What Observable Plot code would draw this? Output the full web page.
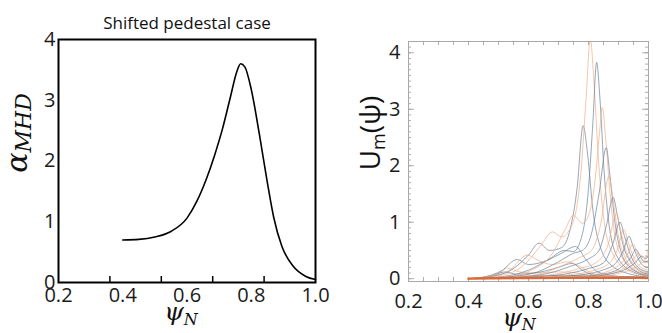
<!DOCTYPE html>
<html><head><meta charset="utf-8">
<script src="https://cdn.jsdelivr.net/npm/d3@7"></script>
<script src="https://cdn.jsdelivr.net/npm/@observablehq/plot@0.6"></script>
<style>
body{margin:0;background:#fff;}
#wrap{position:relative;width:662px;height:333px;overflow:hidden;}
#left,#right{position:absolute;top:0;}
#left{left:0}#right{left:331px}
</style></head><body>
<div id="wrap"><div id="left"></div><div id="right"></div></div>
<script>
// ---------- left panel data ----------
const title = "Shifted pedestal case";
const psiAlpha = [0.40,0.45,0.50,0.55,0.60,0.63,0.66,0.685,0.71,0.735,0.755,0.767,0.78,0.80,0.825,0.85,0.87,0.895,0.93,0.97,1.00];
const alphaMHD = [0.70,0.71,0.75,0.84,1.06,1.33,1.70,2.08,2.52,3.05,3.47,3.60,3.55,3.18,2.45,1.65,1.07,0.60,0.27,0.10,0.05];
const xTickLabels = [0.2,0.4,0.6,0.8,1.0];
const yTickLabelsLeft = [0,1,2,3,4];
const leftTickMarks = [0.36,0.52,0.68,0.84];

// ---------- right panel data: harmonics U_m(psi) as [psi,U, psi,U, ...] ----------
const U01 = [0.40,0, 0.55,0.01, 0.70,0.015, 0.85,0.015, 1.00,0.015];
const U02 = [0.40,0, 0.48,0.025, 0.56,0.05, 0.66,0.05, 0.80,0.04, 0.90,0.03, 1.00,0.03];
const U03 = [0.42,0, 0.50,0.02, 0.60,0.04, 0.70,0.06, 0.80,0.05, 0.90,0.04, 1.00,0.02];
const U04 = [0.40,0, 0.45,0.03, 0.50,0.09, 0.53,0.19, 0.57,0.12, 0.62,0.10, 0.70,0.12, 0.75,0.11, 0.80,0.06, 0.90,0.03, 1.00,0.02];
const U05 = [0.40,0, 0.47,0.03, 0.52,0.12, 0.56,0.08, 0.62,0.10, 0.70,0.20, 0.745,0.27, 0.78,0.15, 0.83,0.05, 1.00,0.02];
const U06 = [0.40,0, 0.46,0.04, 0.51,0.14, 0.562,0.34, 0.60,0.25, 0.65,0.30, 0.71,0.45, 0.757,0.57, 0.79,0.35, 0.83,0.12, 0.90,0.04, 1.00,0.02];
const U07 = [0.40,0, 0.47,0.04, 0.54,0.16, 0.596,0.42, 0.63,0.33, 0.68,0.25, 0.73,0.30, 0.77,0.22, 0.82,0.08, 0.90,0.03, 1.00,0.02];
const U08 = [0.40,0, 0.48,0.04, 0.55,0.18, 0.60,0.42, 0.635,0.63, 0.67,0.50, 0.71,0.55, 0.74,0.90, 0.762,1.60, 0.782,2.71, 0.797,2.20, 0.815,1.20, 0.84,0.55, 0.88,0.22, 0.94,0.08, 1.00,0.03];
const U09 = [0.40,0, 0.50,0.05, 0.58,0.22, 0.64,0.58, 0.68,0.83, 0.71,0.74, 0.745,0.95, 0.775,1.90, 0.792,3.20, 0.806,4.25, 0.818,3.50, 0.832,2.20, 0.85,1.10, 0.88,0.45, 0.93,0.15, 1.00,0.04];
const U10 = [0.42,0, 0.52,0.04, 0.60,0.15, 0.67,0.35, 0.72,0.50, 0.75,0.48, 0.78,0.80, 0.80,1.60, 0.815,2.80, 0.827,3.83, 0.838,3.20, 0.852,1.90, 0.87,0.90, 0.90,0.35, 0.95,0.12, 1.00,0.05];
const U11 = [0.42,0, 0.53,0.04, 0.61,0.15, 0.68,0.45, 0.72,0.85, 0.75,1.12, 0.78,0.98, 0.805,1.20, 0.825,1.90, 0.837,2.60, 0.846,3.03, 0.857,2.50, 0.872,1.50, 0.89,0.70, 0.92,0.30, 0.96,0.12, 1.00,0.05];
const U12 = [0.45,0, 0.55,0.04, 0.63,0.12, 0.70,0.30, 0.75,0.45, 0.78,0.50, 0.81,0.80, 0.835,1.50, 0.859,2.32, 0.872,1.80, 0.888,1.00, 0.91,0.45, 0.94,0.20, 0.97,0.10, 1.00,0.06];
const U13 = [0.45,0, 0.56,0.03, 0.65,0.10, 0.72,0.25, 0.78,0.40, 0.81,0.50, 0.84,0.95, 0.868,1.81, 0.882,1.40, 0.898,0.80, 0.92,0.40, 0.95,0.18, 1.00,0.07];
const U14 = [0.48,0, 0.58,0.03, 0.67,0.10, 0.74,0.22, 0.80,0.35, 0.835,0.50, 0.86,0.95, 0.882,1.44, 0.897,1.10, 0.915,0.60, 0.94,0.30, 0.97,0.14, 1.00,0.08];
const U15 = [0.50,0, 0.60,0.03, 0.70,0.09, 0.77,0.18, 0.83,0.30, 0.865,0.60, 0.893,1.15, 0.907,0.85, 0.925,0.50, 0.95,0.25, 0.98,0.13, 1.00,0.10];
const U16 = [0.50,0, 0.62,0.03, 0.72,0.08, 0.80,0.18, 0.85,0.28, 0.88,0.60, 0.905,1.00, 0.92,0.75, 0.94,0.42, 0.965,0.20, 1.00,0.12];
const U17 = [0.52,0, 0.64,0.02, 0.74,0.07, 0.82,0.15, 0.87,0.28, 0.895,0.50, 0.918,0.87, 0.932,0.65, 0.95,0.38, 0.975,0.20, 1.00,0.15];
const U18 = [0.55,0, 0.66,0.02, 0.76,0.06, 0.84,0.14, 0.89,0.27, 0.915,0.48, 0.935,0.75, 0.95,0.55, 0.968,0.33, 0.985,0.22, 1.00,0.20];
const U19 = [0.58,0, 0.70,0.02, 0.80,0.06, 0.87,0.14, 0.91,0.28, 0.93,0.42, 0.948,0.62, 0.962,0.46, 0.978,0.30, 1.00,0.28];
const U20 = [0.60,0, 0.72,0.02, 0.82,0.06, 0.89,0.14, 0.925,0.28, 0.942,0.38, 0.958,0.52, 0.972,0.40, 0.986,0.30, 1.00,0.32];
const U21 = [0.62,0, 0.75,0.02, 0.85,0.07, 0.91,0.16, 0.94,0.27, 0.968,0.45, 0.98,0.37, 0.99,0.35, 1.00,0.40];
const U22 = [0.65,0, 0.78,0.02, 0.87,0.08, 0.925,0.17, 0.955,0.28, 0.978,0.40, 0.99,0.36, 1.00,0.40];
const U23 = [0.68,0, 0.80,0.02, 0.89,0.08, 0.94,0.16, 0.97,0.25, 0.99,0.35, 1.00,0.55];

const harmonicIds    = ["U01","U02","U03","U04","U05","U06","U07","U08","U09","U10","U11","U12","U13","U14","U15","U16","U17","U18","U19","U20","U21","U22","U23"];
const harmonicValues = [U01,U02,U03,U04,U05,U06,U07,U08,U09,U10,U11,U12,U13,U14,U15,U16,U17,U18,U19,U20,U21,U22,U23];
const harmonicGroups = ["base","even","odd","even","odd","odd","even","odd","even","odd","even","odd","even","odd","even","odd","even","odd","even","odd","even","odd","even"];
const yTickLabelsRight = [0,1,2,3,4];

// ---------- build rows ----------
const rows = [];
harmonicValues.forEach((arr, i) => {
  for (let k = 0; k < arr.length; k += 2) rows.push({id: harmonicIds[i], grp: harmonicGroups[i], psi: arr[k], u: arr[k+1]});
});
const alphaRows = psiAlpha.map((p, i) => ({psi: p, a: alphaMHD[i]}));

const fmt1 = d => d.toFixed(1);
const baseStyle = {fontFamily: "'Open Sans', sans-serif", fontSize: "20px", color: "#1a1a1a", background: "transparent", overflow: "visible"};

// ---------- left panel ----------
const L = {w: 331, h: 333, ml: 58, mr: 16, mt: 39, mb: 51};
const leftPlot = Plot.plot({
  width: L.w, height: L.h, marginLeft: L.ml, marginRight: L.mr, marginTop: L.mt, marginBottom: L.mb,
  style: baseStyle,
  x: {domain: [0.2, 1.0], label: null},
  y: {domain: [0, 4], label: null},
  marks: [
    Plot.axisX(xTickLabels, {tickSize: 0, tickPadding: 5, tickFormat: fmt1, label: null}),
    Plot.axisY(yTickLabelsLeft, {tickSize: 0, tickPadding: 3, tickFormat: d => String(d), label: null}),
    Plot.tickX(leftTickMarks, {x: d => d, insetTop: (L.h - L.mt - L.mb) - 6, stroke: "#000", strokeWidth: 1.5}),
    Plot.line(alphaRows, {x: "psi", y: "a", stroke: "#000", strokeWidth: 1.6, curve: "monotone-x"}),
    Plot.frame({stroke: "#000", strokeWidth: 2}),
    Plot.text([title], {text: d => d, frameAnchor: "top", dy: -23, fontSize: 17, fill: "#111"})
  ]
});
document.getElementById("left").appendChild(leftPlot);

// ---------- right panel ----------
const R = {w: 331, h: 333, ml: 77, mr: 14, mt: 41, mb: 52};
const iH = R.h - R.mt - R.mb, iW = R.w - R.ml - R.mr;
const xMinor = d3.ticks(0.2, 1.0, 16);
const yMinor = d3.ticks(0, 4.2, 42);
const tickCol = "#9a9a9a";
const rightPlot = Plot.plot({
  width: R.w, height: R.h, marginLeft: R.ml, marginRight: R.mr, marginTop: R.mt, marginBottom: R.mb,
  style: baseStyle,
  x: {domain: [0.2, 1.0], label: null},
  y: {domain: [-0.05, 4.2], label: null},
  color: {domain: ["odd", "even", "base"], range: ["#687f98", "#f0ae86", "#e0652e"]},
  marks: [
    Plot.axisX(xTickLabels, {tickSize: 0, tickPadding: 12, tickFormat: fmt1, label: null}),
    Plot.axisY(yTickLabelsRight, {tickSize: 0, tickPadding: 8, tickFormat: d => String(d), label: null}),
    Plot.tickX(xMinor, {x: d => d, insetTop: iH - 4, stroke: tickCol, strokeWidth: 0.8}),
    Plot.tickX(xMinor, {x: d => d, insetBottom: iH - 4, stroke: tickCol, strokeWidth: 0.8}),
    Plot.tickY(yMinor, {y: d => d, insetRight: iW - 3, stroke: tickCol, strokeWidth: 0.8}),
    Plot.tickY(yMinor, {y: d => d, insetLeft: iW - 3, stroke: tickCol, strokeWidth: 0.8}),
    Plot.tickY(yTickLabelsRight, {y: d => d, insetRight: iW - 6, stroke: tickCol, strokeWidth: 0.8}),
    Plot.tickY(yTickLabelsRight, {y: d => d, insetLeft: iW - 6, stroke: tickCol, strokeWidth: 0.8}),
    Plot.line(rows.filter(d => d.grp !== "base"), {x: "psi", y: "u", z: "id", stroke: "grp", strokeWidth: 0.7, curve: "monotone-x", clip: true}),
    Plot.line(rows.filter(d => d.grp === "base"), {x: "psi", y: "u", z: "id", stroke: "grp", strokeWidth: 2.4, curve: "monotone-x", clip: true}),
    Plot.frame({stroke: "#a8a8a8", strokeWidth: 1})
  ]
});
document.getElementById("right").appendChild(rightPlot);

// ---------- axis titles with subscripts ----------
function mathLabel(svgEl, x, y, rot, main, sub, mainSize, subSize, subDy, family, italic) {
  const t = d3.select(svgEl).append("text")
    .attr("transform", `translate(${x},${y})` + (rot ? ` rotate(${rot})` : ""))
    .attr("text-anchor", "middle").attr("fill", "#111")
    .style("font-family", family).style("font-style", italic ? "italic" : "normal")
    .style("font-size", mainSize + "px");
  t.append("tspan").text(main);
  t.append("tspan").attr("dy", subDy).style("font-size", subSize + "px").text(sub);
  return t;
}
const serif = "'DejaVu Serif', serif";
mathLabel(leftPlot, 27, 133, -90, "α", "MHD", 30, 22, 4, serif, true);
mathLabel(leftPlot, 181, 320, 0, "ψ", "N", 25, 16, 5, serif, true);
mathLabel(rightPlot, 519 - 331, 326, 0, "ψ", "N", 25, 16, 4, serif, true);
const ul = mathLabel(rightPlot, 380 - 331, 133, -90, "U", "m", 28, 18, 5, "'Open Sans', sans-serif", false);
ul.append("tspan").attr("dy", -5).style("font-size", "28px").text("(ψ)");
</script>
</body></html>
